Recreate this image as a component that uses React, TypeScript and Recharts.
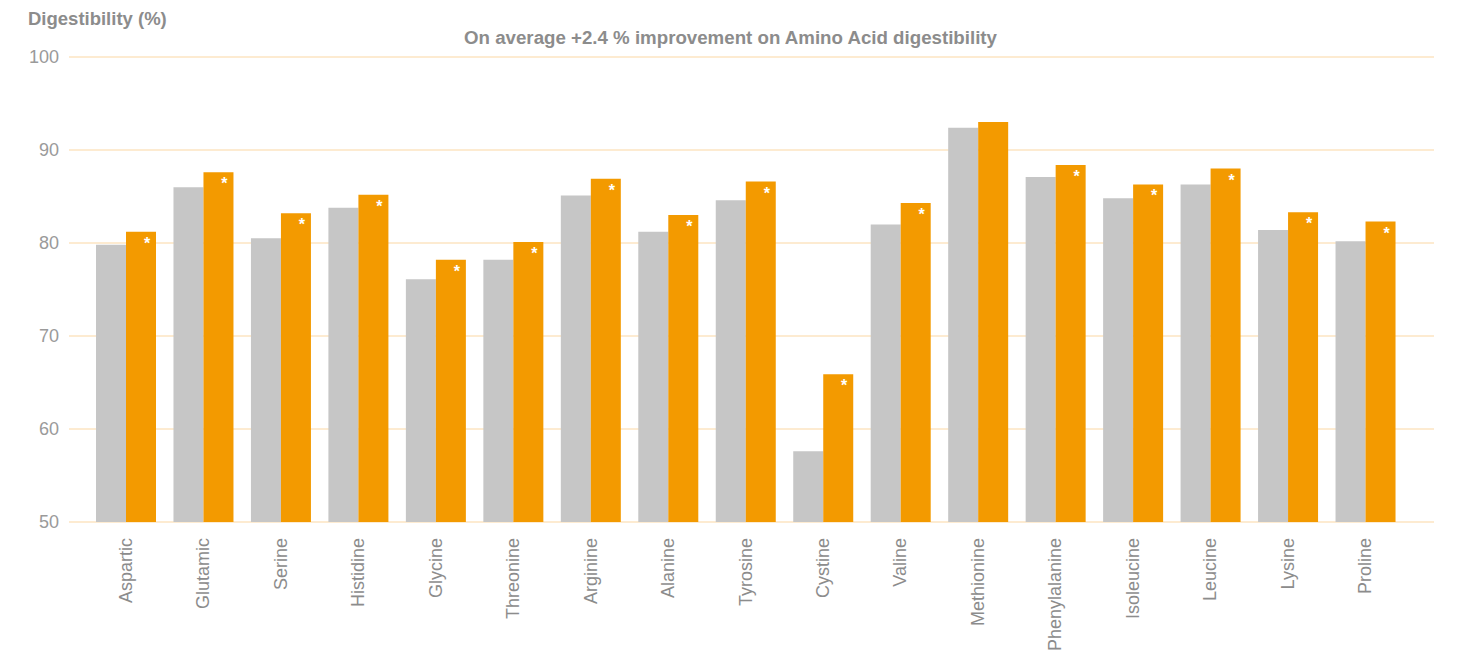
import React from "react";
import { BarChart, Bar, XAxis, YAxis, CartesianGrid, LabelList } from "recharts";

const categories = ["Aspartic", "Glutamic", "Serine", "Histidine", "Glycine", "Threonine", "Arginine", "Alanine", "Tyrosine", "Cystine", "Valine", "Methionine", "Phenylalanine", "Isoleucine", "Leucine", "Lysine", "Proline"];
const controlValues = [79.8, 86.0, 80.5, 83.8, 76.1, 78.2, 85.1, 81.2, 84.6, 57.6, 82.0, 92.4, 87.1, 84.8, 86.3, 81.4, 80.2];
const treatedValues = [81.2, 87.6, 83.2, 85.2, 78.2, 80.1, 86.9, 83.0, 86.6, 65.9, 84.3, 93.0, 88.4, 86.3, 88.0, 83.3, 82.3];
const significant = [true, true, true, true, true, true, true, true, true, true, true, false, true, true, true, true, true];
const yTicks = [50, 60, 70, 80, 90, 100];

const data = categories.map((name, i) => ({
  name,
  control: controlValues[i],
  treated: treatedValues[i],
  star: significant[i] ? "*" : "",
}));

const FONT = "'Liberation Sans', Arial, Helvetica, sans-serif";

const XTick = (props: any) => {
  const { x, y, payload } = props;
  return (
    <text
      x={0}
      y={0}
      transform={`translate(${x + 6},${y + 8}) rotate(-90)`}
      textAnchor="end"
      fill="#8c8c8c"
      fontSize={18}
      fontFamily={FONT}
    >
      {payload.value}
    </text>
  );
};

const StarLabel = (props: any) => {
  const { x, y, value } = props;
  if (!value) return null;
  return (
    <text x={x + 21} y={y + 17} fill="#ffffff" fontSize={16} fontWeight="bold" textAnchor="middle" fontFamily={FONT}>
      {value}
    </text>
  );
};

export default function App() {
  return (
    <div style={{ position: "absolute", left: 0, top: 0, width: 1461, height: 653, background: "#fff", fontFamily: FONT }}>
      <div style={{ position: "absolute", left: 28, top: 8, fontSize: 18.5, fontWeight: "bold", color: "#8c8c8c", whiteSpace: "nowrap" }}>
        Digestibility (%)
      </div>
      <div style={{ position: "absolute", left: 0, width: 1461, top: 27, textAlign: "center", fontSize: 18.7, fontWeight: "bold", color: "#8c8c8c", whiteSpace: "nowrap" }}>
        On average +2.4 % improvement on Amino Acid digestibility
      </div>
      <BarChart
        width={1461}
        height={653}
        data={data}
        margin={{ top: 57, right: 27, bottom: 0, left: 0 }}
        barGap={0}
        barSize={30}
      >
        <CartesianGrid vertical={false} stroke="#fde4c2" strokeWidth={1.5} />
        <XAxis
          dataKey="name"
          height={131}
          interval={0}
          tickLine={false}
          axisLine={false}
          tick={<XTick />}
          padding={{ left: 18, right: 30 }}
        />
        <YAxis
          width={69}
          domain={[50, 100]}
          ticks={yTicks}
          tickLine={false}
          axisLine={false}
          tickMargin={4}
          allowDataOverflow
          tick={{ fill: "#9a9a9a", fontSize: 18, fontFamily: FONT }}
        />
        <Bar dataKey="control" fill="#c6c6c6" isAnimationActive={false} />
        <Bar dataKey="treated" fill="#f39a00" isAnimationActive={false}>
          <LabelList dataKey="star" content={<StarLabel />} />
        </Bar>
      </BarChart>
    </div>
  );
}
